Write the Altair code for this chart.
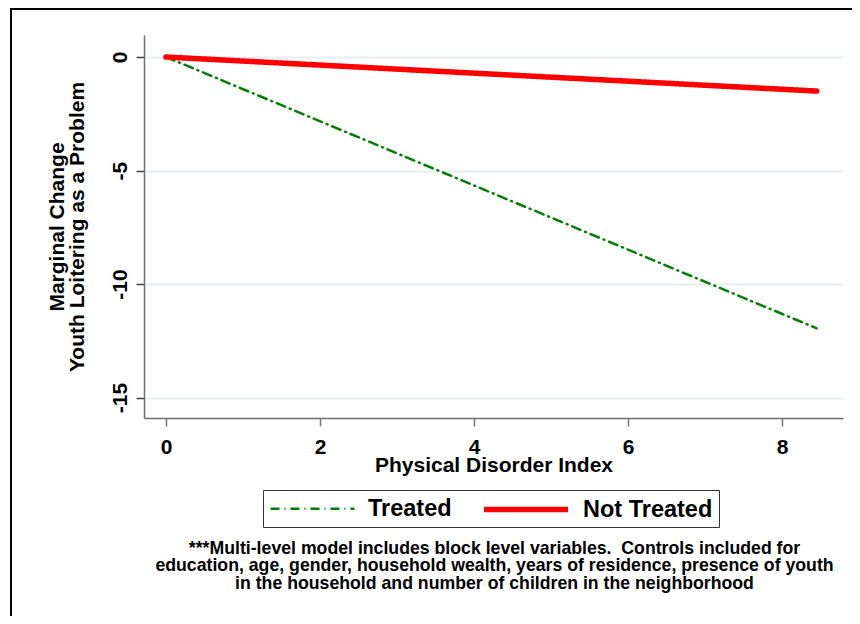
import altair as alt
import pandas as pd

# ---- data ----
disorder = [0.0, 8.45]
treated = [0.0, -11.95]
not_treated = [0.0, -1.5]
series_names = ["Treated", "Not Treated"]
series_colors = ["#008000", "#ff0000"]
x_ticks = [0, 2, 4, 6, 8]
y_ticks = [0, -5, -10, -15]
x_title = "Physical Disorder Index"
y_title = ["Marginal Change", "Youth Loitering as a Problem"]
note_lines = [
    "***Multi-level model includes block level variables.\u00a0 Controls included for",
    "education, age, gender, household wealth, years of residence, presence of youth",
    "in the household and number of children in the neighborhood",
]

rows = []
for name, vals in zip(series_names, [treated, not_treated]):
    for xv, yv in zip(disorder, vals):
        rows.append({"series": name, "x": xv, "y": yv})
df = pd.DataFrame(rows)

FONT = "Liberation Sans"
W, H = 699, 383

leg = alt.Legend(title=None)

lines = alt.Chart(df).mark_line(strokeCap="round", clip=False).encode(
    x=alt.X(
        "x:Q",
        scale=alt.Scale(domain=[-0.286, 8.792], nice=False, zero=False),
        axis=alt.Axis(
            values=x_ticks, title=x_title, grid=False,
            tickSize=8, tickWidth=1.5, tickColor="#777777",
            domainColor="#6e6e6e", domainWidth=1.5,
            labelPadding=10, labelFontSize=21, labelFontWeight="bold",
            labelFont=FONT, labelColor="black", labelExpr="datum.value + ''",
            titleFont=FONT, titleFontSize=21, titleFontWeight="bold",
            titleColor="black", titleY=36, titleBaseline="top",
        ),
    ),
    y=alt.Y(
        "y:Q",
        scale=alt.Scale(domain=[-15.9, 0.97], nice=False, zero=False),
        axis=alt.Axis(
            values=y_ticks, title=y_title, grid=True,
            gridColor="#e8eef1", gridWidth=2,
            tickSize=8, tickWidth=1.5, tickColor="#444444",
            domainColor="#6e6e6e", domainWidth=1.5,
            labelAngle=270, labelAlign="center", labelBaseline="alphabetic",
            labelPadding=10, labelFontSize=21, labelFontWeight="bold",
            labelFont=FONT, labelColor="black", labelExpr="datum.value + ''",
            titleFont=FONT, titleFontSize=21, titleFontWeight="bold",
            titleColor="black", titleAngle=270, titleAlign="center",
            titleBaseline="alphabetic", titleX=-80.5, titleLineHeight=20,
        ),
    ),
    color=alt.Color("series:N", scale=alt.Scale(domain=series_names, range=series_colors), legend=leg),
    strokeDash=alt.StrokeDash("series:N", scale=alt.Scale(domain=series_names, range=[[9, 5, 1, 5], [1, 0]]), legend=leg),
    strokeWidth=alt.StrokeWidth("series:N", scale=alt.Scale(domain=series_names, range=[2.5, 5.5]), legend=leg),
    order=alt.Order("series:N", sort="descending"),
)

note_df = pd.DataFrame({"text": ["\n".join(note_lines)]})
note = alt.Chart(note_df).mark_text(
    align="center", baseline="alphabetic", fontSize=17.7, fontWeight="bold",
    font=FONT, lineHeight=17.5, lineBreak="\n", color="black",
).encode(text="text:N", x=alt.value(350.5), y=alt.value(518.5))

frame_df = pd.DataFrame({"k": [0]})
frame_left = alt.Chart(frame_df).mark_rule(color="black", strokeWidth=2).encode(
    x=alt.value(-133), y=alt.value(-26), y2=alt.value(H + 200)
)
frame_top = alt.Chart(frame_df).mark_rule(color="black", strokeWidth=2).encode(
    x=alt.value(-134), x2=alt.value(W + 30), y=alt.value(-26)
)

chart = alt.layer(frame_left, frame_top, lines, note).properties(
    width=W, height=H,
    padding={"left": 136, "top": 27, "right": 9, "bottom": 198},
    autosize=alt.AutoSizeParams(type="none"),
    background="white",
).configure_view(stroke=None).configure_legend(
    orient="none", legendX=119, legendY=455, direction="horizontal",
    strokeColor="#333333", fillColor="white", padding=6,
    symbolType="M-1,0L7,0", symbolSize=441,
    labelFont=FONT, labelFontSize=23.5, labelFontWeight="bold", labelColor="black",
    labelOffset=75, columnPadding=21,
)

chart.save("out.html", embed_options={"renderer": "svg", "actions": False})
